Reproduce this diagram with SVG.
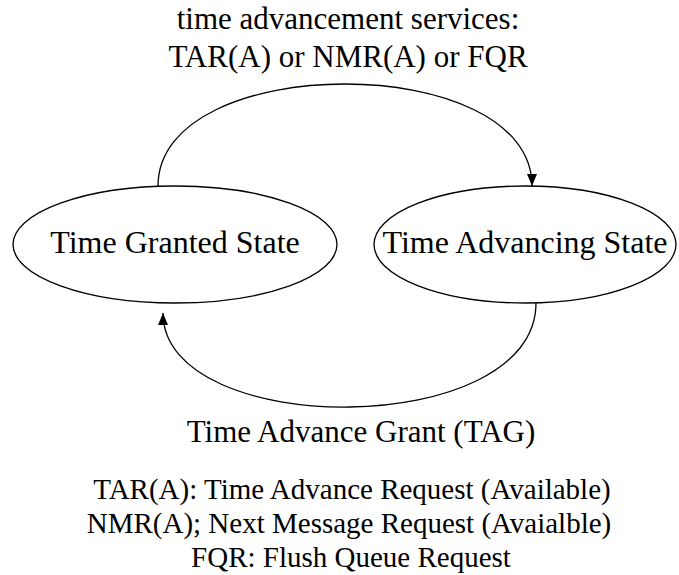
<svg xmlns="http://www.w3.org/2000/svg" width="679" height="575" viewBox="0 0 679 575">
  <style>
    .node-text { font-size: 32px; }
    .label { font-size: 31px; }
    .legend { font-size: 29px; }
    .state { fill: #fff; stroke: #000; stroke-width: 1.3; }
    .edge { fill: none; stroke: #000; stroke-width: 1.3; }
  </style>
  <defs>
    <marker id="arrow" markerWidth="12" markerHeight="10" refX="12" refY="5" orient="auto" markerUnits="userSpaceOnUse">
      <path d="M0,0 L12,5 L0,10 Z" fill="#000"/>
    </marker>
  </defs>
  <rect width="679" height="575" fill="#fff"/>

  <g font-family="Times New Roman, Liberation Serif, Tinos, Times, Noto Serif, DejaVu Serif, FreeSerif, serif" fill="#000" text-anchor="middle">
    <!-- transition labels -->
    <text class="label" x="348" y="29">time advancement services:</text>
    <text class="label" x="348" y="67">TAR(A) or NMR(A) or FQR</text>
    <text class="label" x="361" y="442">Time Advance Grant (TAG)</text>

    <!-- states -->
    <g id="time-granted-state">
      <ellipse class="state" cx="175" cy="244.5" rx="162" ry="58.5"/>
      <text class="node-text" x="175" y="253">Time Granted State</text>
    </g>
    <g id="time-advancing-state">
      <ellipse class="state" cx="525" cy="244.5" rx="151" ry="58.5"/>
      <text class="node-text" x="525" y="253">Time Advancing State</text>
    </g>

    <!-- transitions -->
    <g id="connectors">
      <path class="edge" d="M158,186 C158,50 532,50 532,186" marker-end="url(#arrow)"/>
      <path class="edge" d="M536,303 C536,440 163,440 163,313" marker-end="url(#arrow)"/>
    </g>

    <!-- legend -->
    <g id="legend">
      <text class="legend" x="352" y="499">TAR(A): Time Advance Request (Available)</text>
      <text class="legend" x="349" y="533">NMR(A); Next Message Request (Avaialble)</text>
      <text class="legend" x="351" y="567">FQR: Flush Queue Request</text>
    </g>
  </g>
</svg>
